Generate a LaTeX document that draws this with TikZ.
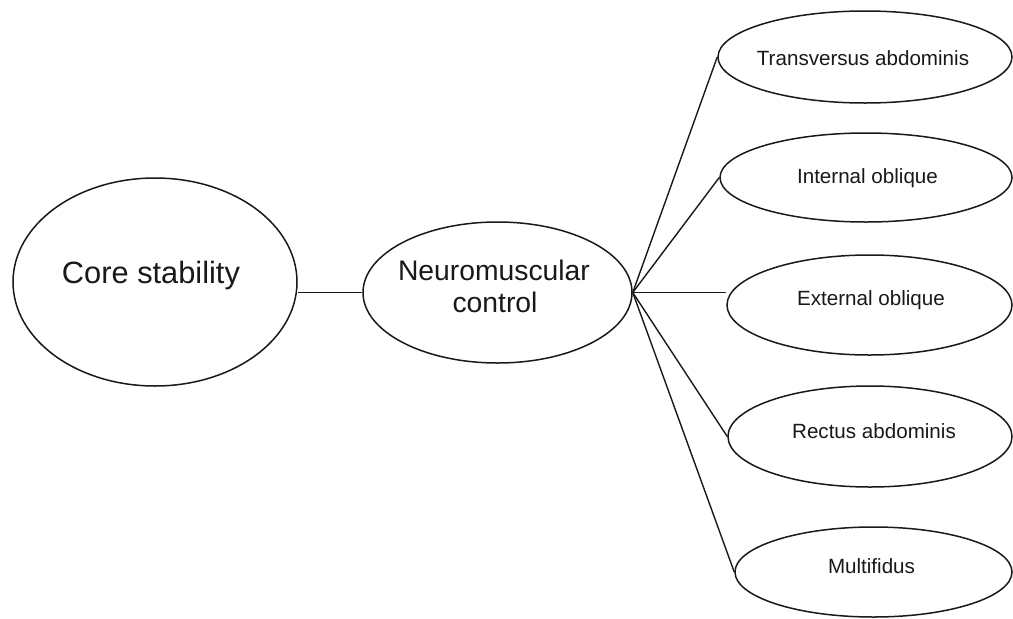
\documentclass[tikz,border=0pt]{standalone}
\usepackage{fontspec}
\setmainfont{Liberation Sans}
\usetikzlibrary{shapes.geometric,backgrounds}
\begin{document}
\begin{tikzpicture}[x=1pt,y=-1pt,
  oval/.style={draw=black!90, line width=1.5pt, ellipse, inner sep=0pt, fill=white},
  lbl/.style={anchor=base, inner sep=0pt, text=black!90, font=\fontsize{20.6}{24}\selectfont},
  biglbl/.style={anchor=base, inner sep=0pt, text=black!90, font=\fontsize{30.8}{36}\selectfont},
  midlbl/.style={anchor=base, inner sep=0pt, text=black!90, font=\fontsize{28.3}{32}\selectfont},
  link/.style={draw=black!90, line width=1.4pt}]
\path[use as bounding box] (0,0) rectangle (1013,619);
\begin{scope}[on background layer]
  \fill[white] (0,0) rectangle (1013,619);
\end{scope}

% ellipses
\node[oval, minimum width=284pt, minimum height=208pt] (cs) at (155,282) {};
\node[oval, minimum width=269pt, minimum height=141pt] (nm) at (497.5,292.5) {};
\node[oval, minimum width=294pt, minimum height=92pt]  (ta) at (865,57) {};
\node[oval, minimum width=292pt, minimum height=89pt]  (io) at (866,177.5) {};
\node[oval, minimum width=285pt, minimum height=100pt] (eo) at (869.5,305) {};
\node[oval, minimum width=284pt, minimum height=101pt] (ra) at (870,436.5) {};
\node[oval, minimum width=277pt, minimum height=90pt]  (mf) at (873.5,572) {};

% labels
\node[biglbl] (cst) at (151,283) {Core stability};
\node[midlbl] (nmt1) at (494,280) {Neuromuscular};
\node[midlbl] (nmt2) at (495,312) {control};
\node[lbl] (tat) at (863,65) {Transversus abdominis};
\node[lbl] (iot) at (867.5,183) {Internal oblique};
\node[lbl] (eot) at (871,305) {External oblique};
\node[lbl] (rat) at (874,438) {Rectus abdominis};
\node[lbl] (mft) at (871.5,573) {Multifidus};

% connectors
\begin{scope}[on background layer]
  \draw[link] (nm.west -| cs.east) -- (nm.west);
  \draw[link] (nm.east) -- (ta.west);
  \draw[link] (nm.east) -- (io.west);
  \draw[link] (nm.east) -- (nm.east -| eo.west);
  \draw[link] (nm.east) -- (ra.west);
  \draw[link] (nm.east) -- (mf.west);
\end{scope}
\end{tikzpicture}
\end{document}
